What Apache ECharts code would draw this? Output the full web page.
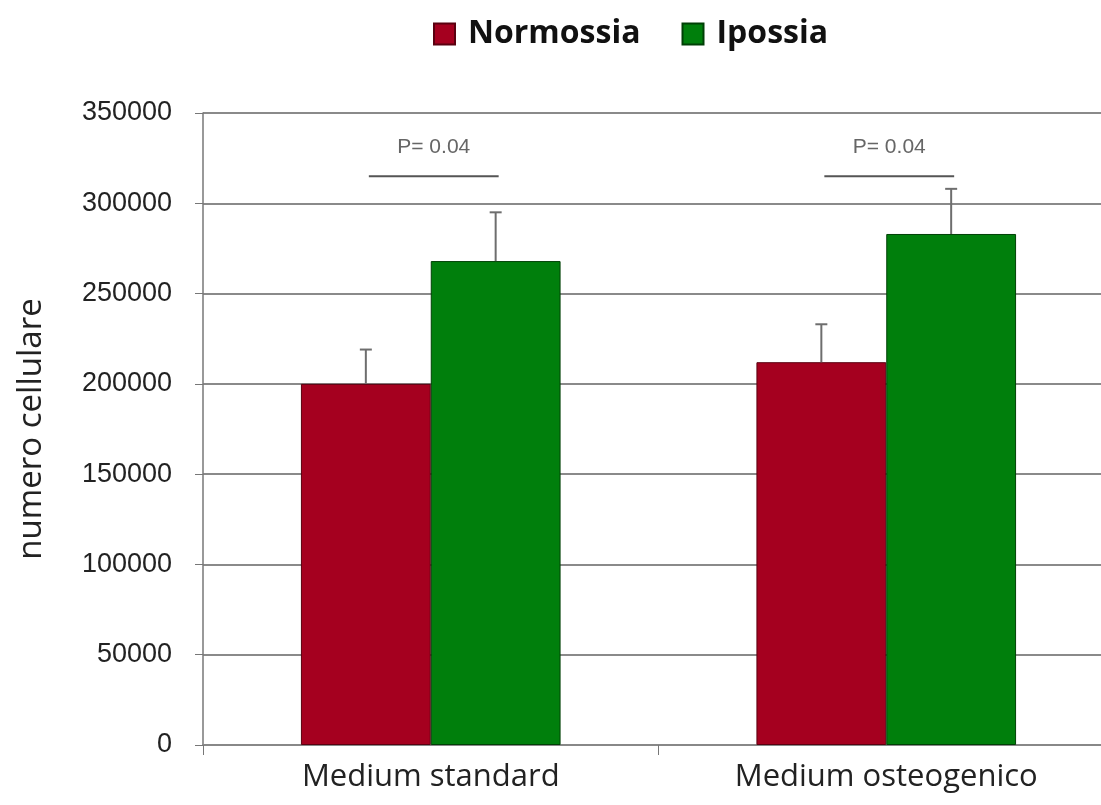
<!DOCTYPE html>
<html>
<head>
<meta charset="utf-8">
<script src="https://cdn.jsdelivr.net/npm/echarts@6/dist/echarts.min.js"></script>
<style>
  html, body { margin: 0; padding: 0; background: #fff; }
  #chart { width: 1101px; height: 805px; }
</style>
</head>
<body>
<div id="chart"></div>
<script>
var categories = ["Medium standard", "Medium osteogenico"];
var normossia = [200000, 212000];
var ipossia = [268000, 283000];
var normossiaErr = [19000, 21000];
var ipossiaErr = [27000, 25000];
var pLabels = ["P= 0.04", "P= 0.04"];
var pLevel = [315000, 315000];
var yTicks = [0, 50000, 100000, 150000, 200000, 250000, 300000, 350000];

var BAR_RATIO = 0.285; // bar width as part of the category band
var redColor = "#a5001f";
var greenColor = "#007f0c";

// error bar, only going up from the top of the bar
function errorBar(side) {
  return function (params, api) {
    var i = api.value(0);
    var top = api.coord([i, api.value(1)]);
    var hi = api.coord([i, api.value(1) + api.value(2)]);
    var band = api.size([1, 0])[0];
    var cx = top[0] + side * band * BAR_RATIO / 2;
    var style = { stroke: "#6e6e6e", lineWidth: 2 };
    return {
      type: "group",
      children: [
        { type: "line", shape: { x1: cx, y1: top[1], x2: cx, y2: hi[1] }, style: style },
        { type: "line", shape: { x1: cx - 6, y1: hi[1], x2: cx + 6, y2: hi[1] }, style: style }
      ]
    };
  };
}

function pBracket(params, api) {
  var i = api.value(0);
  var p = api.coord([i, api.value(1)]);
  var band = api.size([1, 0])[0];
  var half = band * BAR_RATIO / 2;
  return {
    type: "group",
    children: [
      { type: "line", shape: { x1: p[0] - half + 3, y1: p[1], x2: p[0] + half + 3, y2: p[1] },
        style: { stroke: "#555", lineWidth: 2 } },
      { type: "text", x: p[0] + 3, y: p[1] - 29,
        style: { text: pLabels[i], fill: "#666", font: "21px 'Liberation Sans', Arial",
                 textAlign: "center", textVerticalAlign: "middle" } }
    ]
  };
}

var chart = echarts.init(document.getElementById("chart"));
chart.setOption({
  animation: false,
  backgroundColor: "#fff",
  legend: {
    top: 13,
    left: 428,
    itemWidth: 21,
    itemHeight: 21,
    itemGap: 41,
    icon: "rect",
    data: ["Normossia", "Ipossia"],
    textStyle: { fontSize: 32, fontWeight: "bold", color: "#111", fontFamily: "Open Sans",
                 padding: [0, 0, 0, 8] }
  },
  grid: { left: 203, top: 113, bottom: 60, width: 911, outerBoundsMode: "none" },
  xAxis: {
    type: "category",
    data: categories,
    axisLine: { lineStyle: { color: "#888", width: 2 } },
    axisTick: { show: true, interval: 0, length: 10, lineStyle: { color: "#777", width: 1 } },
    axisLabel: { fontSize: 31, color: "#222", margin: 17, fontFamily: "Open Sans" }
  },
  yAxis: {
    type: "value",
    min: 0,
    max: 350000,
    interval: 50000,
    name: "numero cellulare",
    nameLocation: "middle",
    nameGap: 155,
    nameRotate: 90,
    nameTextStyle: { fontSize: 33, color: "#222", fontFamily: "Open Sans" },
    axisLine: { show: true, lineStyle: { color: "#777", width: 1.5 } },
    axisTick: { show: true, inside: false, length: 8, lineStyle: { color: "#777" } },
    axisLabel: {
      fontSize: 27, color: "#222", margin: 31, fontFamily: "Liberation Sans",
      formatter: function (v) { return yTicks.indexOf(v) >= 0 ? String(v) : ""; }
    },
    splitLine: { lineStyle: { color: "#8a8a8a", width: 2 } }
  },
  series: [
    {
      name: "Normossia",
      type: "bar",
      data: normossia,
      barWidth: (BAR_RATIO * 100) + "%",
      barGap: "0%",
      itemStyle: { color: redColor, borderColor: "#5a0010", borderWidth: 1 }
    },
    {
      name: "Ipossia",
      type: "bar",
      data: ipossia,
      barWidth: (BAR_RATIO * 100) + "%",
      barGap: "0%",
      itemStyle: { color: greenColor, borderColor: "#004006", borderWidth: 1 }
    },
    {
      type: "custom",
      renderItem: errorBar(-1),
      data: normossia.map(function (v, i) { return [i, v, normossiaErr[i]]; }),
      encode: { x: 0, y: 1 },
      z: 3
    },
    {
      type: "custom",
      renderItem: errorBar(1),
      data: ipossia.map(function (v, i) { return [i, v, ipossiaErr[i]]; }),
      encode: { x: 0, y: 1 },
      z: 3
    },
    {
      type: "custom",
      renderItem: pBracket,
      data: pLevel.map(function (v, i) { return [i, v]; }),
      encode: { x: 0, y: 1 },
      z: 3
    }
  ]
});
</script>
</body>
</html>
